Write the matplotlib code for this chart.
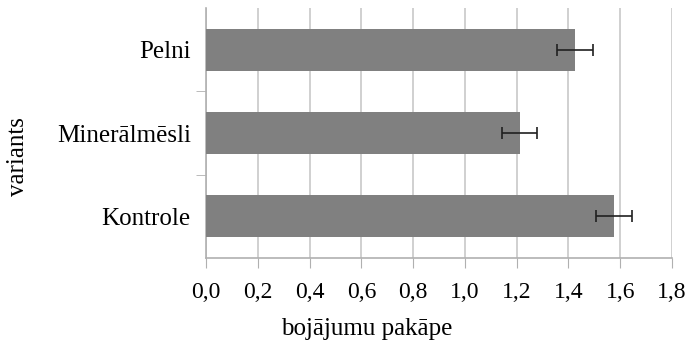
import matplotlib
matplotlib.use('Agg')
import matplotlib.pyplot as plt
from matplotlib.ticker import FuncFormatter, MultipleLocator

# bottom-to-top order as drawn
VARIANTS = ['Kontrole', 'Minerālmēsli', 'Pelni']
MEANS = [1.576, 1.212, 1.425]
ERRS = [0.068, 0.067, 0.069]

plt.rcParams['font.family'] = ['Liberation Serif', 'DejaVu Serif']

fig = plt.figure(figsize=(6.89, 3.5), dpi=100)
ax = fig.add_axes([206 / 689, 1 - 258 / 350, 466 / 689, 250 / 350])

ax.barh(range(len(VARIANTS)), MEANS, height=0.5, color='#808080',
        xerr=ERRS, error_kw=dict(ecolor='#202020', elinewidth=1.2,
                                 capsize=4.5, capthick=1.2), zorder=3)

ax.set_xlim(0, 1.8)
ax.set_ylim(-0.5, 2.5)
ax.xaxis.set_major_locator(MultipleLocator(0.2))
ax.xaxis.set_major_formatter(
    FuncFormatter(lambda v, _: ('%.1f' % v).replace('.', ',')))
ax.set_yticks(range(len(VARIANTS)))
ax.set_yticklabels(VARIANTS, fontsize=18)
ax.set_yticks([0.5, 1.5], minor=True)
ax.tick_params(axis='y', which='major', length=0, pad=11)
ax.tick_params(axis='y', which='minor', length=7.5, color='#b0b0b0')
ax.tick_params(axis='x', length=7.5, color='#b0b0b0', pad=10, labelsize=17)

ax.grid(axis='x', color='#c8c8c8', lw=1.2, zorder=0)
for s in ('top', 'right'):
    ax.spines[s].set_visible(False)
for s in ('left', 'bottom'):
    ax.spines[s].set_color('#b0b0b0')
    ax.spines[s].set_linewidth(1.2)

# axis titles sit where the spreadsheet put them, not centred on the axes
fig.text(367 / 689, 1 - 335 / 350, 'bojājumu pakāpe', fontsize=18,
         ha='center', va='baseline')
fig.text(18 / 689, 1 - 157 / 350, 'variants', fontsize=18,
         rotation=90, ha='center', va='center')

fig.savefig('out.png', dpi=100)
